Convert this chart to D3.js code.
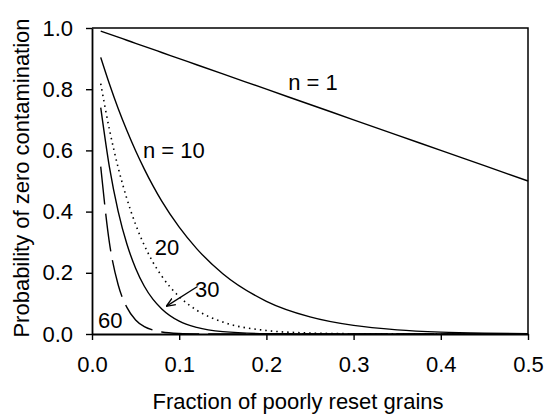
<!DOCTYPE html>
<html>
<head>
<meta charset="utf-8">
<script src="https://cdn.jsdelivr.net/npm/d3@7"></script>
<style>
  body { margin: 0; background: #fff; }
  svg text { font-family: "Liberation Sans", Arial, sans-serif; fill: #000; }
</style>
</head>
<body>
<div id="chart"></div>
<script>
const width = 546;
const height = 416;

const margin = { top: 28, right: 18, bottom: 82, left: 92 };

// fraction of poorly reset grains
const fractions = [0.01, 0.02, 0.03, 0.04, 0.05, 0.06, 0.07, 0.08, 0.10, 0.12,
                   0.15, 0.20, 0.25, 0.30, 0.35, 0.40, 0.45, 0.50];

// probability of zero contamination, one list per n
const n1  = [0.99, 0.98, 0.97, 0.96, 0.95, 0.94, 0.93, 0.92, 0.90, 0.88,
             0.85, 0.80, 0.75, 0.70, 0.65, 0.60, 0.55, 0.50];
const n10 = [0.904, 0.817, 0.737, 0.665, 0.599, 0.539, 0.484, 0.434, 0.349, 0.279,
             0.197, 0.107, 0.056, 0.028, 0.0135, 0.006, 0.0025, 0.001];
const n20 = [0.818, 0.668, 0.544, 0.442, 0.358, 0.290, 0.234, 0.189, 0.122, 0.078,
             0.039, 0.0115, 0.0032, 0.0008, 0.0002, 0, 0, 0];
const n30 = [0.740, 0.545, 0.401, 0.294, 0.215, 0.156, 0.113, 0.082, 0.042, 0.0216,
             0.0076, 0.0012, 0.0002, 0, 0, 0, 0, 0];
const n60 = [0.547, 0.298, 0.161, 0.087, 0.046, 0.024, 0.0128, 0.0067, 0.0018, 0.0005,
             0.0001, 0, 0, 0, 0, 0, 0, 0];

const xTicks = [0, 0.1, 0.2, 0.3, 0.4, 0.5];
const yTicks = [0, 0.2, 0.4, 0.6, 0.8, 1.0];

const series = [
  { name: "n1",  values: n1,  dash: null },
  { name: "n10", values: n10, dash: null },
  { name: "n20", values: n20, dash: "1.5,4" },
  { name: "n30", values: n30, dash: null },
  { name: "n60", values: n60, dash: "38,9" }
];

const svg = d3.select("#chart")
  .append("svg")
  .attr("width", width)
  .attr("height", height);

const xScale = d3.scaleLinear()
  .domain([0, 0.5])
  .range([margin.left, width - margin.right]);

const yScale = d3.scaleLinear()
  .domain([0, 1])
  .range([height - margin.bottom, margin.top]);

const line = d3.line()
  .x(function(d, i) { return xScale(fractions[i]); })
  .y(function(d) { return yScale(d); })
  .curve(d3.curveMonotoneX);

// frame (top and right)
svg.append("path")
  .attr("d", "M" + xScale(0) + "," + yScale(1) + "H" + xScale(0.5) + "V" + yScale(0))
  .attr("fill", "none")
  .attr("stroke", "#000")
  .attr("stroke-width", 1.5);

svg.selectAll(".curve")
  .data(series)
  .enter()
  .append("path")
  .attr("class", "curve")
  .attr("d", function(d) { return line(d.values); })
  .attr("fill", "none")
  .attr("stroke", "#000")
  .attr("stroke-width", function(d) { return d.dash === "1.5,4" ? 1.6 : 1.4; })
  .attr("stroke-dasharray", function(d) { return d.dash; });

// axes
const xAxis = svg.append("g")
  .attr("transform", "translate(0," + yScale(0) + ")")
  .call(d3.axisBottom(xScale).tickValues(xTicks).tickFormat(d3.format(".1f"))
    .tickSizeInner(6).tickSizeOuter(0).tickPadding(16));

const yAxis = svg.append("g")
  .attr("transform", "translate(" + xScale(0) + ",0)")
  .call(d3.axisLeft(yScale).tickValues(yTicks).tickFormat(d3.format(".1f"))
    .tickSizeInner(6).tickSizeOuter(0).tickPadding(13));

[xAxis, yAxis].forEach(function(g) {
  g.select(".domain").attr("stroke-width", 1.8);
  g.selectAll(".tick line").attr("stroke-width", 1.4);
  g.selectAll(".tick text")
    .attr("font-size", "22px")
    .attr("font-family", "Liberation Sans, Arial, sans-serif");
});

// axis titles
svg.append("text")
  .attr("x", 298)
  .attr("y", 409)
  .attr("text-anchor", "middle")
  .attr("font-size", "22px")
  .text("Fraction of poorly reset grains");

svg.append("text")
  .attr("transform", "translate(29," + 178 + ") rotate(-90)")
  .attr("text-anchor", "middle")
  .attr("font-size", "22px")
  .text("Probability of zero contamination");

// curve labels
const labels = [
  { text: "n = 1",  x: 0.225, y: 0.797 },
  { text: "n = 10", x: 0.0585, y: 0.575 },
  { text: "20",     x: 0.072, y: 0.258 },
  { text: "30",     x: 0.118, y: 0.121 },
  { text: "60",     x: 0.007, y: 0.02 }
];

svg.selectAll(".curve-label")
  .data(labels)
  .enter()
  .append("text")
  .attr("class", "curve-label")
  .attr("x", function(d) { return xScale(d.x); })
  .attr("y", function(d) { return yScale(d.y); })
  .attr("font-size", "22px")
  .text(function(d) { return d.text; });

// arrow from "30" to its curve
svg.append("defs").append("marker")
  .attr("id", "head")
  .attr("viewBox", "0 0 10 10")
  .attr("refX", 9)
  .attr("refY", 5)
  .attr("markerWidth", 7)
  .attr("markerHeight", 7)
  .attr("orient", "auto")
  .append("path")
  .attr("d", "M0,1 L10,5 L0,9")
  .attr("fill", "none")
  .attr("stroke", "#000")
  .attr("stroke-width", 1.5);

svg.append("line")
  .attr("x1", xScale(0.121))
  .attr("y1", yScale(0.155))
  .attr("x2", xScale(0.086))
  .attr("y2", yScale(0.092))
  .attr("stroke", "#000")
  .attr("stroke-width", 1.3)
  .attr("marker-end", "url(#head)");
</script>
</body>
</html>
